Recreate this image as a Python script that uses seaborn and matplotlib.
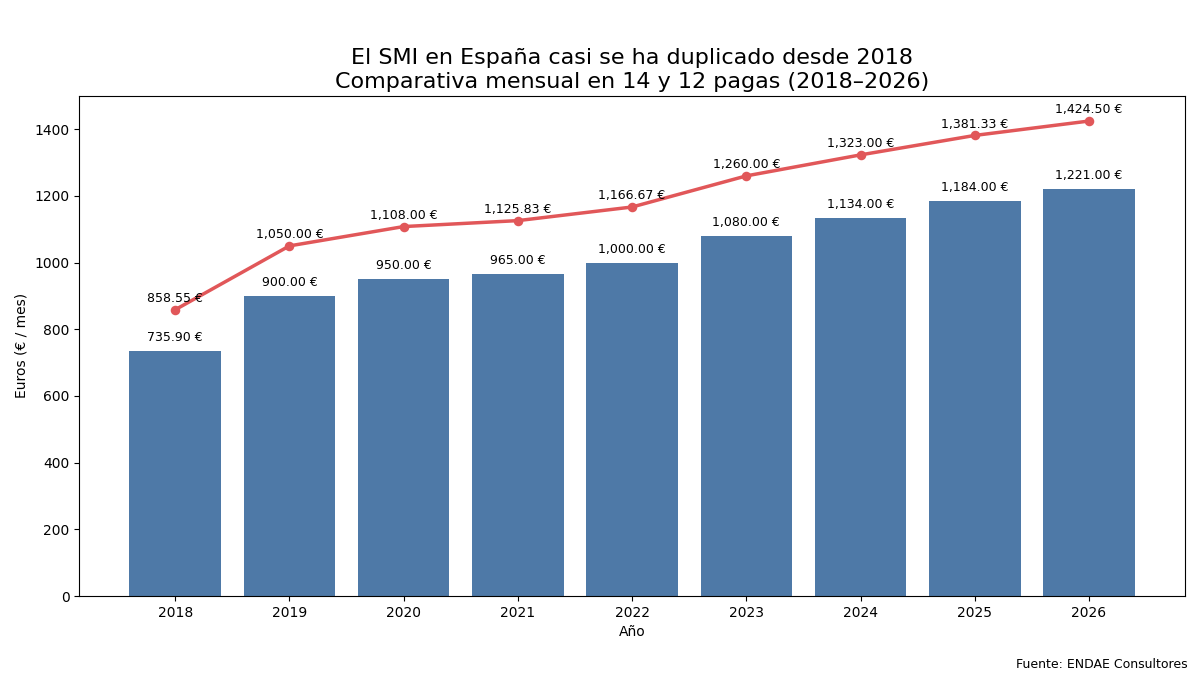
import seaborn as sns
import pandas as pd
import numpy as np
import matplotlib.pyplot as plt

# Data: SMI mensual
years = ["2018", "2019", "2020", "2021", "2022", "2023", "2024", "2025", "2026"]
smi_14_pagas = [735.90, 900.00, 950.00, 965.00, 1000.00, 1080.00, 1134.00, 1184.00, 1221.00]
smi_12_pagas = [858.55, 1050.00, 1108.00, 1125.83, 1166.67, 1260.00, 1323.00, 1381.33, 1424.50]

df = pd.DataFrame({"Año": years, "14 pagas": smi_14_pagas, "12 pagas": smi_12_pagas})

# plain matplotlib look
plt.style.use("default")

fig, ax = plt.subplots(figsize=(12, 6.75), dpi=100)
fig.subplots_adjust(left=0.066, right=0.9875, top=0.858, bottom=0.117)

sns.barplot(data=df, x="Año", y="14 pagas", color="#4e79a7", saturation=1, width=0.8,
            edgecolor="none", linewidth=0, ax=ax)
sns.pointplot(data=df, x="Año", y="12 pagas", color="#e15759", markers="o",
              linewidth=2.5, markersize=5, ax=ax)

for i, v in enumerate(smi_14_pagas):
    ax.annotate(f"{v:,.2f} €", (i, v), xytext=(0, 5), textcoords="offset points",
                ha="center", va="bottom", fontsize=9)
for i, v in enumerate(smi_12_pagas):
    ax.annotate(f"{v:,.2f} €", (i, v), xytext=(0, 3.5), textcoords="offset points",
                ha="center", va="bottom", fontsize=9)

ax.set_xlim(-0.84, 8.84)
ax.set_ylim(0, 1500)
ax.set_xlabel("Año", fontsize=10)
ax.set_ylabel("Euros (€ / mes)", fontsize=10)
ax.set_title("El SMI en España casi se ha duplicado desde 2018\nComparativa mensual en 14 y 12 pagas (2018–2026)",
             fontsize=16)

fig.text(0.99, 0.006, "Fuente: ENDAE Consultores", ha="right", va="bottom", fontsize=9)

fig.savefig("out.png", dpi=100)
